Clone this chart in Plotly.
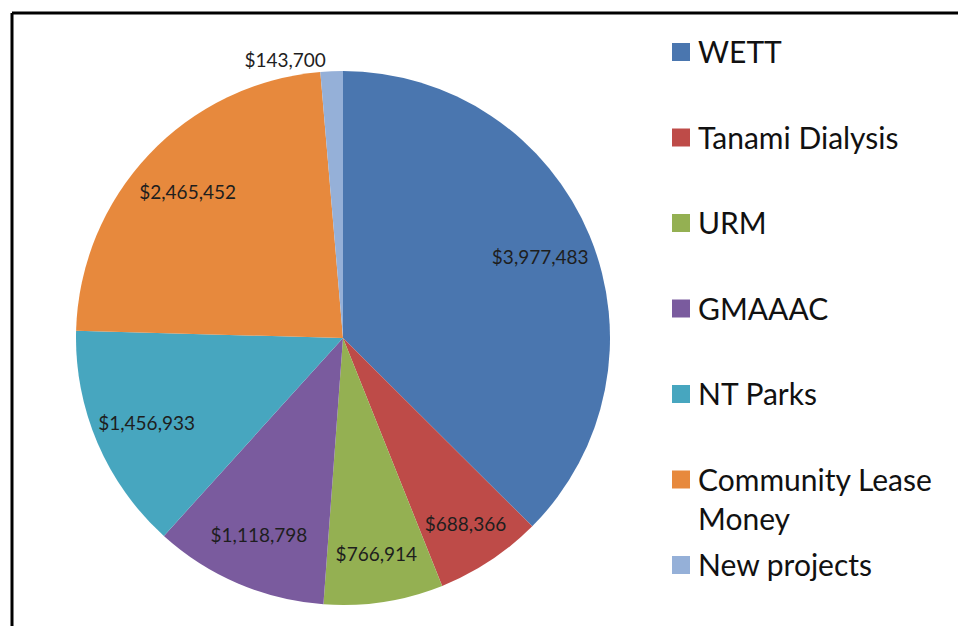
import plotly.graph_objects as go

categories = ["WETT", "Tanami Dialysis", "URM", "GMAAAC", "NT Parks",
              "Community Lease Money", "New projects"]
legend_labels = ["WETT", "Tanami Dialysis", "URM", "GMAAAC", "NT Parks",
                 "Community Lease<br>Money", "New projects"]
values = [3977483, 688366, 766914, 1118798, 1456933, 2465452, 143700]
colors = ["#4A76AF", "#BE4B48", "#94B052", "#7A5B9E", "#47A6BF",
          "#E7893D", "#95B0D8"]
text_positions = ["inside", "inside", "inside", "inside", "inside", "inside", "outside"]

W, H = 958, 626
FONT = "Lato, 'Open Sans', sans-serif"
pie_domain = dict(x=[76 / W, 610 / W], y=[1 - 605 / H, 1 - 71 / H])

fig = go.Figure()
# coloured slices
fig.add_trace(go.Pie(
    labels=categories, values=values, sort=False,
    direction="clockwise", rotation=0,
    marker=dict(colors=colors, line=dict(width=0)),
    textinfo="none", showlegend=False,
    hoverinfo="label+value", domain=pie_domain,
))
# transparent ring carrying the data labels (places them near the rim)
fig.add_trace(go.Pie(
    labels=categories, values=values, sort=False,
    direction="clockwise", rotation=0, hole=0.6,
    marker=dict(colors=["rgba(0,0,0,0)"] * len(values), line=dict(width=0)),
    texttemplate="$%{value:,}",
    textposition=text_positions,
    insidetextorientation="horizontal",
    textfont=dict(family=FONT, size=19, color="#1e1e1e"),
    showlegend=False, hoverinfo="skip", domain=pie_domain,
))

# custom legend drawn from the category list
shapes = []
annotations = []
for i, (lab, col) in enumerate(zip(legend_labels, colors)):
    yc = 52 + i * 85.5
    shapes.append(dict(type="rect", xref="paper", yref="paper",
                       x0=672 / W, x1=690 / W,
                       y0=1 - (yc + 9) / H, y1=1 - (yc - 9) / H,
                       fillcolor=col, line=dict(width=0)))
    annotations.append(dict(xref="paper", yref="paper", x=696 / W,
                            y=1 - (yc - 21) / H, xanchor="left", yanchor="top",
                            text=lab, showarrow=False, align="left",
                            font=dict(family=FONT, size=30, color="#111111")))

# frame (top and left edges visible)
shapes.append(dict(type="line", xref="paper", yref="paper",
                   x0=12 / W, x1=1.0, y0=1 - 13 / H, y1=1 - 13 / H,
                   line=dict(color="black", width=3)))
shapes.append(dict(type="line", xref="paper", yref="paper",
                   x0=12 / W, x1=12 / W, y0=1 - 13 / H, y1=0,
                   line=dict(color="black", width=3)))

fig.update_layout(
    width=W, height=H,
    margin=dict(l=0, r=0, t=0, b=0),
    paper_bgcolor="white",
    plot_bgcolor="white",
    shapes=shapes,
    annotations=annotations,
    uniformtext=dict(minsize=19, mode="show"),
)

fig.write_html("out.html", config={"displayModeBar": False},
               post_script="document.body.style.margin='0';")
